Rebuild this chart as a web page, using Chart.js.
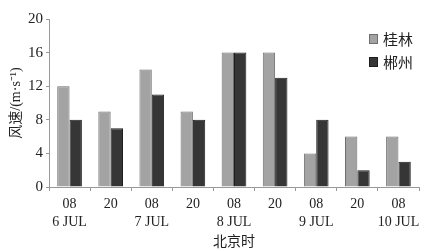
<!DOCTYPE html>
<html>
<head>
<meta charset="utf-8">
<script src="https://cdn.jsdelivr.net/npm/chart.js@4/dist/chart.umd.min.js"></script>
<style>
  html, body { margin: 0; padding: 0; background: #fff; }
  #wrap { width: 435px; height: 251px; position: relative; }
</style>
</head>
<body>
<div id="wrap"><canvas id="c" width="435" height="251"></canvas></div>
<script>
// Dados
const horas = ['08', '20', '08', '20', '08', '20', '08', '20', '08'];
const dias = ['6 JUL', '', '7 JUL', '', '8 JUL', '', '9 JUL', '', '10 JUL'];
const guilin = [12, 9, 14, 9, 16, 16, 4, 6, 6];
const chenzhou = [8, 7, 11, 8, 16, 13, 8, 2, 3];
const yTicks = [0, 4, 8, 12, 16, 20];

const serif = '"Liberation Serif", "DejaVu Serif", serif';
const cjk = '"Noto Sans CJK SC", sans-serif';

// Legenda dentro da área do gráfico
const legendaInterna = {
  id: 'legendaInterna',
  afterDraw(chart) {
    const ctx = chart.ctx;
    const x = chart.chartArea.right - 50;
    chart.data.datasets.forEach((ds, i) => {
      const y = chart.chartArea.top + 15 + i * 23;
      ctx.save();
      ctx.fillStyle = ds.backgroundColor;
      ctx.strokeStyle = ds.borderColor;
      ctx.lineWidth = 1;
      ctx.fillRect(x, y, 9, 10);
      ctx.strokeRect(x + 0.5, y + 0.5, 8, 9);
      ctx.fillStyle = '#222';
      ctx.font = '15px ' + cjk;
      ctx.textBaseline = 'middle';
      ctx.fillText(ds.label, x + 14, y + 5);
      ctx.restore();
    });
  }
};

new Chart(document.getElementById('c'), {
  type: 'bar',
  data: {
    labels: horas.map((h, i) => [h, dias[i]]),
    datasets: [
      { label: '桂林', data: guilin, backgroundColor: '#a3a3a3', borderColor: '#6e6e6e', borderWidth: 1 },
      { label: '郴州', data: chenzhou, backgroundColor: '#363636', borderColor: '#1e1e1e', borderWidth: 1 }
    ]
  },
  options: {
    responsive: false,
    animation: false,
    layout: { padding: { top: 19, right: 16, left: 0, bottom: 0 } },
    plugins: { legend: { display: false }, tooltip: { enabled: false } },
    datasets: { bar: { categoryPercentage: 0.6, barPercentage: 1 } },
    scales: {
      x: {
        grid: { display: true, drawOnChartArea: false, offset: true, tickLength: 4, color: '#999' },
        border: { color: '#999' },
        ticks: { color: '#222', font: { family: serif, size: 14, lineHeight: 1.25 }, padding: 5, maxRotation: 0, autoSkip: false },
        title: { display: true, text: '北京时', color: '#222', font: { family: cjk, size: 14 }, padding: { top: 0, bottom: 2 } },
        afterFit(s) { s.height = 64; }
      },
      y: {
        min: 0, max: 20,
        afterBuildTicks(s) { s.ticks = yTicks.map(v => ({ value: v })); },
        grid: { display: true, drawOnChartArea: false, tickLength: 3, color: '#999' },
        border: { color: '#999' },
        ticks: { color: '#222', font: { family: serif, size: 15 }, padding: 3 },
        title: { display: true, text: '风速/(m·s⁻¹)', color: '#222', font: { family: '"Liberation Serif", "Noto Sans CJK SC", serif', size: 14 }, padding: { top: 8, bottom: 0 } },
        afterFit(s) { s.width = 49; }
      }
    }
  },
  plugins: [legendaInterna]
});
</script>
</body>
</html>
